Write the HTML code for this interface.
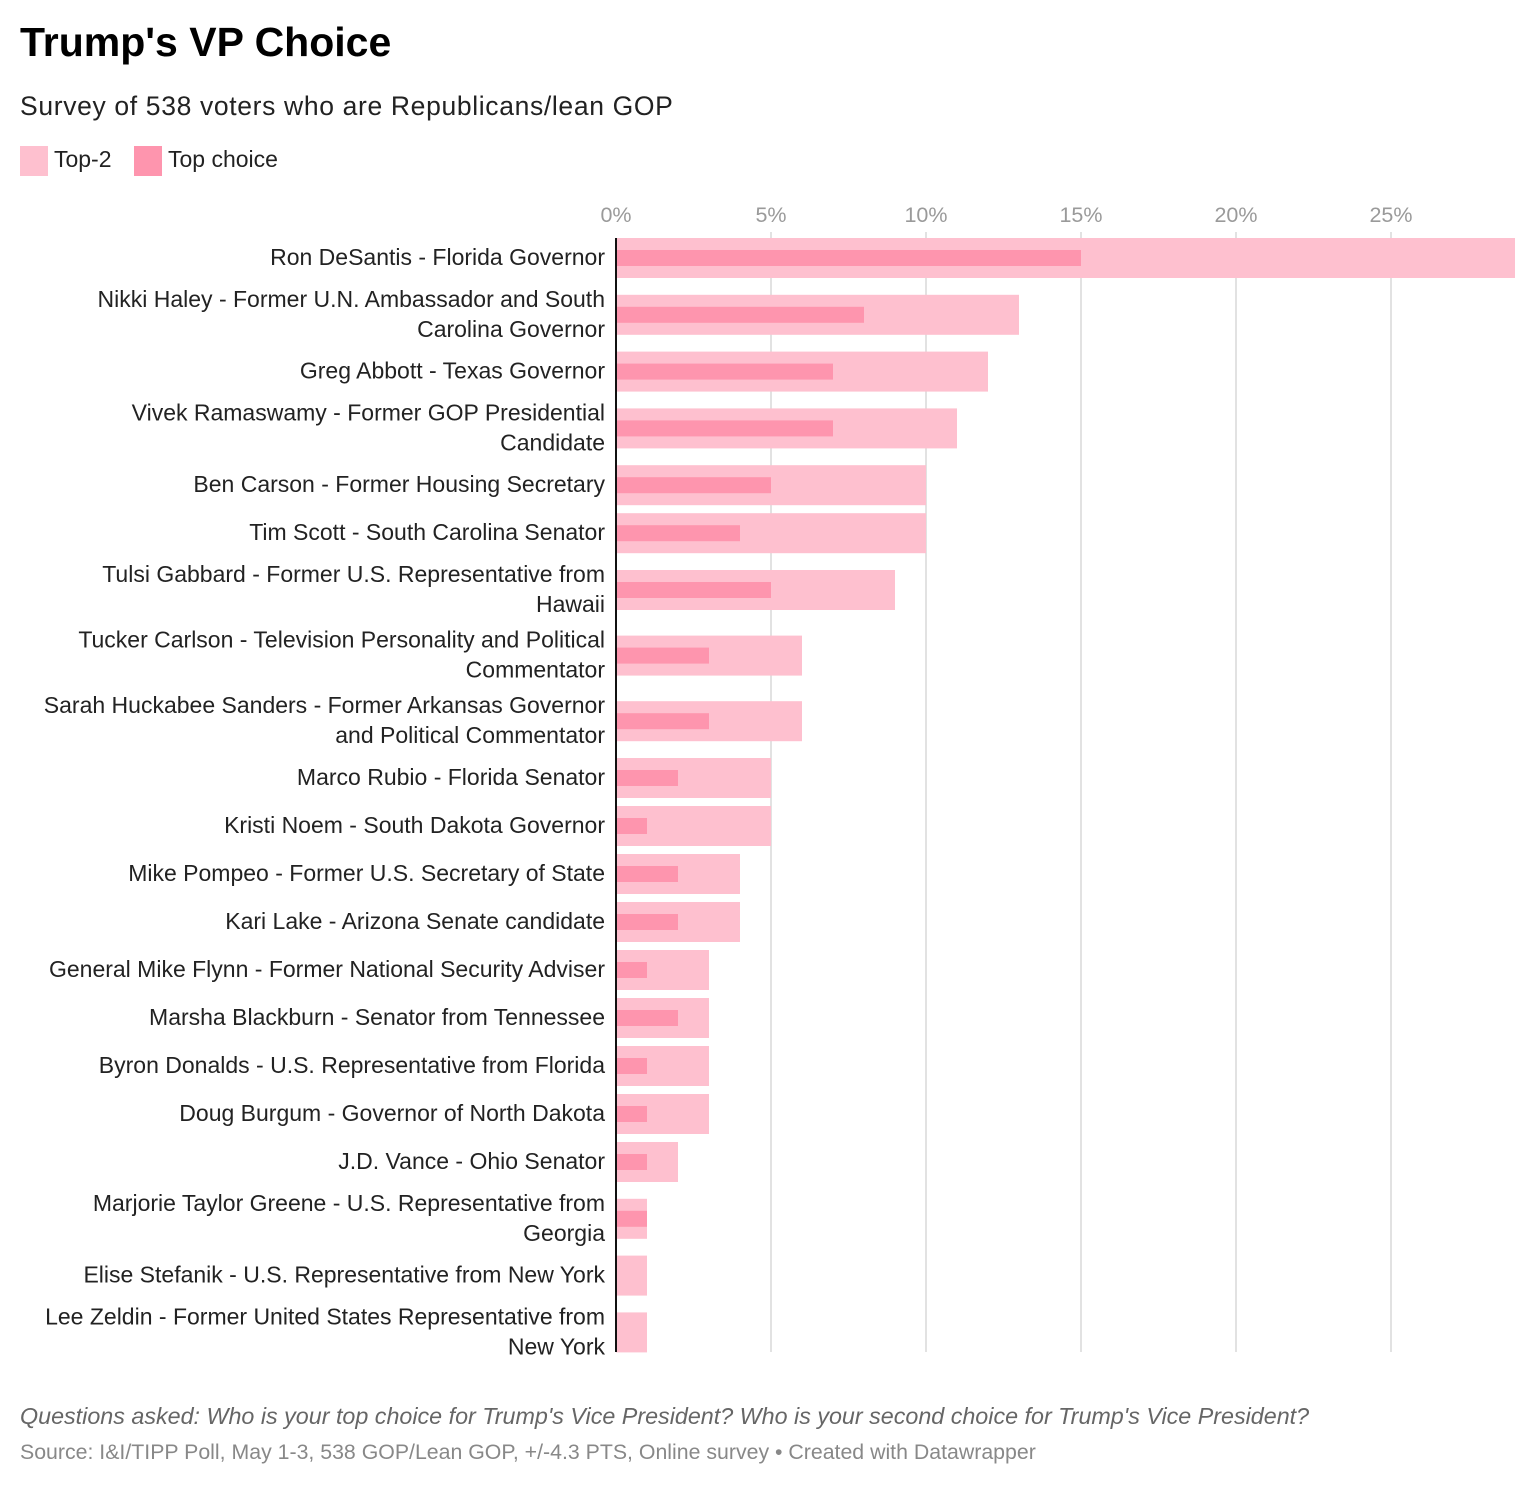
<!DOCTYPE html>
<html><head><meta charset="utf-8"><style>
body{margin:0;background:#fff;font-family:"Liberation Sans",sans-serif;}
#wrap{position:relative;width:1536px;height:1486px;}
</style></head><body>
<div id="wrap">
<div style="position:absolute;left:20px;top:19px;font-size:41px;font-weight:bold;color:#000">Trump's VP Choice</div>
<div style="position:absolute;left:20px;top:91px;font-size:26.5px;letter-spacing:0.65px;color:#222;white-space:nowrap">Survey of 538 voters who are Republicans/lean GOP</div>
<div style="position:absolute;left:20px;top:146px;font-size:23px;color:#222">
<span style="position:absolute;left:0;top:0;white-space:nowrap"><span style="display:inline-block;width:28px;height:30px;background:#fec0cf;vertical-align:middle"></span> Top-2</span>
<span style="position:absolute;left:114px;top:0;white-space:nowrap"><span style="display:inline-block;width:28px;height:30px;background:#fe95ae;vertical-align:middle"></span> Top choice</span>
</div>
<svg id="chart" width="1536" height="1486" style="position:absolute;left:0;top:0"></svg>
<div style="position:absolute;left:20px;top:1403px;font-size:23.3px;font-style:italic;color:#666;white-space:nowrap">Questions asked: Who is your top choice for Trump's Vice President? Who is your second choice for Trump's Vice President?</div>
<div style="position:absolute;left:20px;top:1440px;font-size:21.3px;color:#888;white-space:nowrap">Source: I&amp;I/TIPP Poll, May 1-3, 538 GOP/Lean GOP, +/-4.3 PTS, Online survey • Created with Datawrapper</div>
</div>
<script>
const labels=[
["Ron DeSantis - Florida Governor"],
["Nikki Haley - Former U.N. Ambassador and South","Carolina Governor"],
["Greg Abbott - Texas Governor"],
["Vivek Ramaswamy - Former GOP Presidential","Candidate"],
["Ben Carson - Former Housing Secretary"],
["Tim Scott - South Carolina Senator"],
["Tulsi Gabbard - Former U.S. Representative from","Hawaii"],
["Tucker Carlson - Television Personality and Political","Commentator"],
["Sarah Huckabee Sanders - Former Arkansas Governor","and Political Commentator"],
["Marco Rubio - Florida Senator"],
["Kristi Noem - South Dakota Governor"],
["Mike Pompeo - Former U.S. Secretary of State"],
["Kari Lake - Arizona Senate candidate"],
["General Mike Flynn - Former National Security Adviser"],
["Marsha Blackburn - Senator from Tennessee"],
["Byron Donalds - U.S. Representative from Florida"],
["Doug Burgum - Governor of North Dakota"],
["J.D. Vance - Ohio Senator"],
["Marjorie Taylor Greene - U.S. Representative from","Georgia"],
["Elise Stefanik - U.S. Representative from New York"],
["Lee Zeldin - Former United States Representative from","New York"]];
const top2=[29,13,12,11,10,10,9,6,6,5,5,4,4,3,3,3,3,2,1,1,1];
const topChoice=[15,8,7,7,5,4,5,3,3,2,1,2,2,1,2,1,1,1,1,0,0];
const ticks=[0,5,10,15,20,25];
const tickLabels=["0%","5%","10%","15%","20%","25%"];

const NS="http://www.w3.org/2000/svg";
const svg=document.getElementById('chart');
const x0=616, pxPer=31;
const x=v=>x0+v*pxPer;
function mk(t,a){const e=document.createElementNS(NS,t);for(const k in a)e.setAttribute(k,a[k]);svg.appendChild(e);return e;}
ticks.forEach((t,i)=>{
 if(t>0){const g=mk('line',{x1:x(t),x2:x(t),y1:232,y2:1352,stroke:'#e2e2e2','stroke-width':2});
 
 }
 const tx=mk('text',{x:x(t),y:222,'text-anchor':'middle','font-size':21.5,fill:'#9a9a9a','font-family':'Liberation Sans, sans-serif'});
 tx.textContent=tickLabels[i];
 
 
});
let cy=258, prevHalf=null;
labels.forEach((lab,i)=>{
 const half=lab.length>1?32.8:24;
 if(prevHalf!==null) cy+=prevHalf+half;
 prevHalf=half;
 const b=mk('rect',{x:x(0),y:cy-20,width:x(top2[i])-x(0),height:40,fill:'#fec0cf'});
 
 
 const c=mk('rect',{x:x(0),y:cy-8,width:x(topChoice[i])-x(0),height:16,fill:'#fe95ae'});
 
 
 const n=lab.length;
 lab.forEach((l,j)=>{
  const ty=cy+7+(j-(n-1)/2)*30;
  const t=mk('text',{x:605,y:ty,'text-anchor':'end','font-size':23,fill:'#222','font-family':'Liberation Sans, sans-serif'});
  t.textContent=l;
  
  
 });
});
const ax=mk('line',{x1:616,x2:616,y1:238,y2:1352,stroke:'#111','stroke-width':2});


</script>
</body></html>
